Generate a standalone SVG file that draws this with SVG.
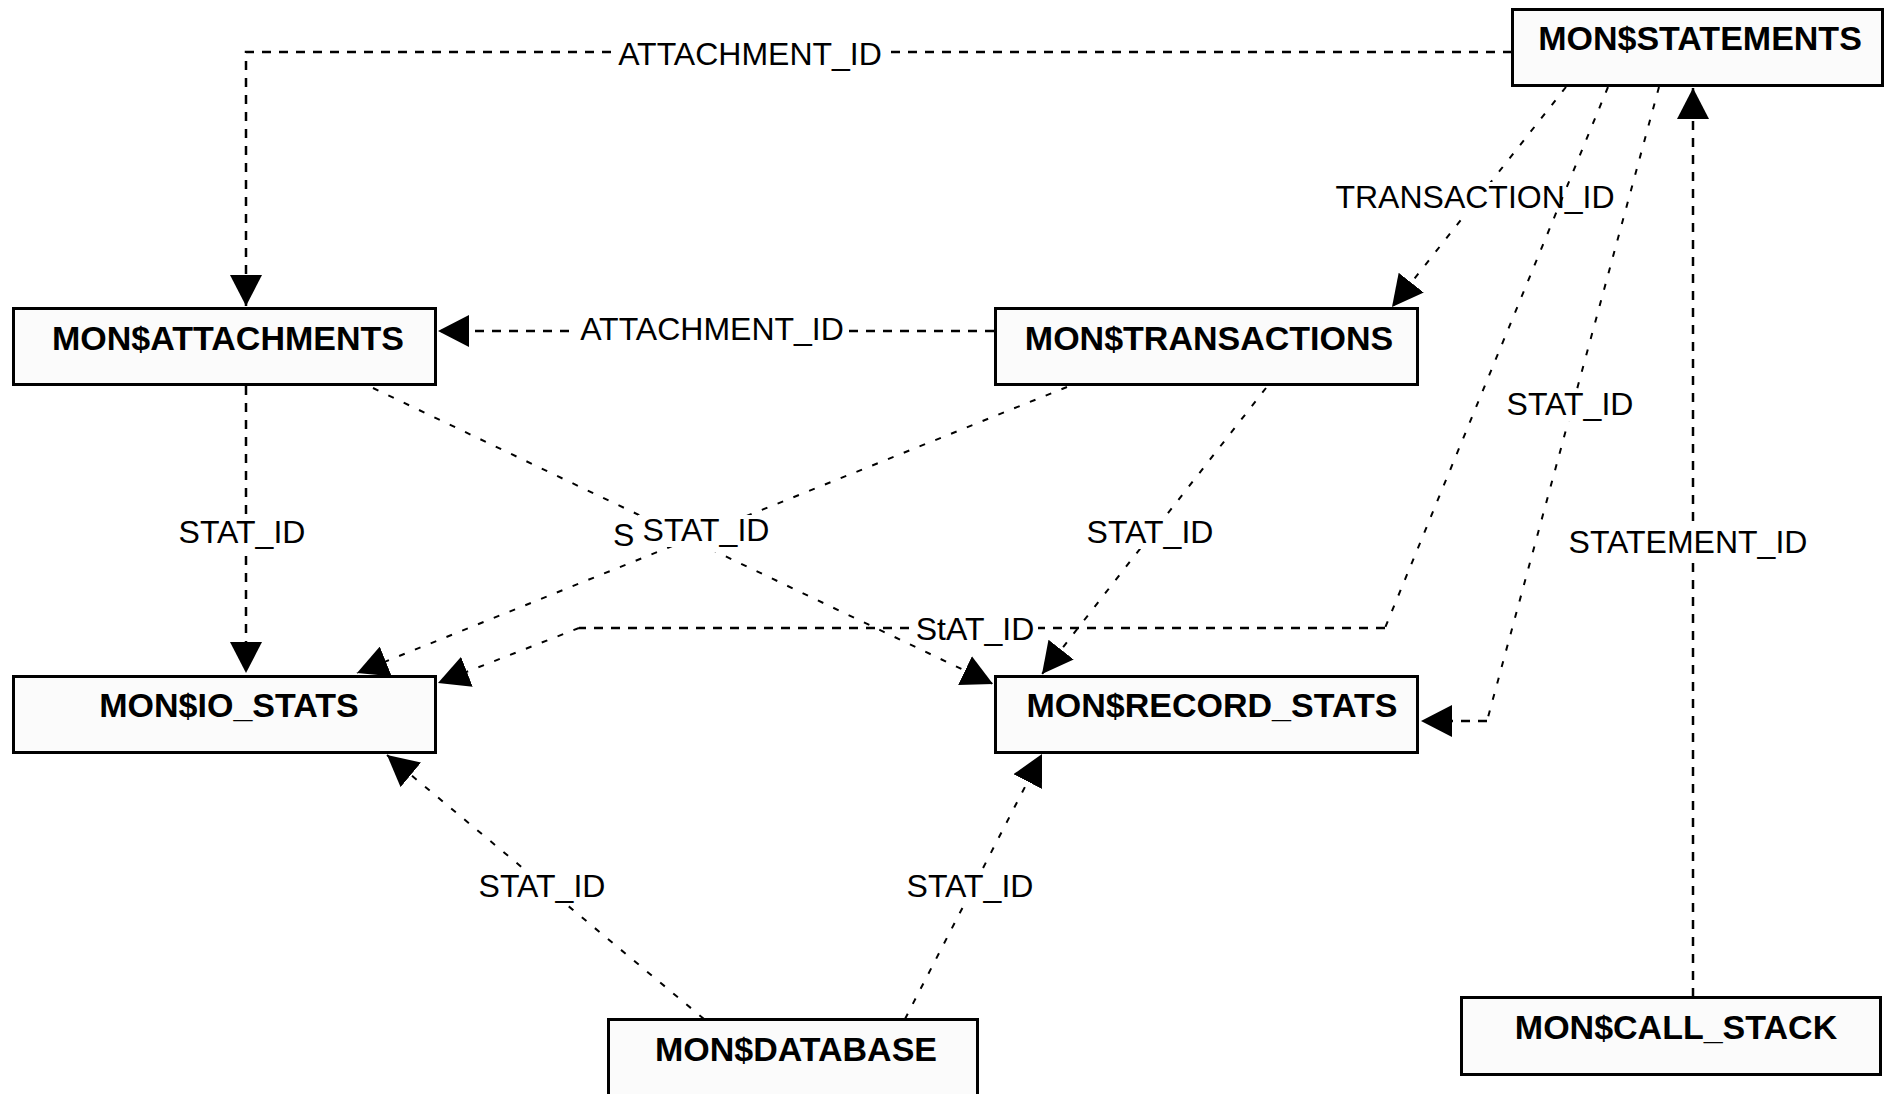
<svg xmlns="http://www.w3.org/2000/svg" width="1888" height="1094" viewBox="0 0 1888 1094">
<defs>
<style>
.c{fill:none;stroke:#000;stroke-width:2.5;stroke-dasharray:9 8}
.d{fill:none;stroke:#000;stroke-width:2;stroke-dasharray:6 11}
.bg{fill:#fff}
.l{font-family:"Liberation Sans",Arial,sans-serif;font-size:32px;fill:#000;text-anchor:middle}
.ls{font-family:"Liberation Sans",Arial,sans-serif;font-size:32px;fill:#000;text-anchor:start}
.n rect{fill:#fbfbfb;stroke:#000;stroke-width:3}
.n text{font-family:"Liberation Sans",Arial,sans-serif;font-weight:bold;font-size:34px;fill:#000;text-anchor:middle}
</style>
<marker id="ah" viewBox="0 0 31 32" refX="31" refY="16" markerWidth="31" markerHeight="32" markerUnits="userSpaceOnUse" orient="auto">
<path d="M0,0 L31,16 L0,32 z" fill="#000"/>
</marker>
</defs>
<rect width="1888" height="1094" fill="#fff"/>
<g id="connectors">
<g id="c1">
<path class="c" d="M1512,52 H246 V306" marker-end="url(#ah)"/>
<rect class="bg" x="614" y="39" width="272" height="32"/>
<text class="l" x="750" y="65">ATTACHMENT_ID</text>
</g>
<g id="c2">
<path class="c" d="M994,331 H438" marker-end="url(#ah)"/>
<rect class="bg" x="576" y="314" width="272" height="32"/>
<text class="l" x="712" y="340">ATTACHMENT_ID</text>
</g>
<g id="c3">
<path class="d" d="M1566,87 L1392,307" marker-end="url(#ah)"/>
<rect class="bg" x="1334" y="182" width="283" height="32"/>
<text class="l" x="1475" y="208">TRANSACTION_ID</text>
</g>
<g id="c4">
<path class="d" d="M1608,87 L1385,628"/>
<path class="c" d="M1385,628 H579"/>
<path class="d" d="M579,628 L438,683" marker-end="url(#ah)"/>
<rect class="bg" x="912" y="614" width="126" height="32"/>
<text class="l" x="975" y="640">StAT_ID</text>
</g>
<g id="c5">
<path class="c" d="M1693,997 V88" marker-end="url(#ah)"/>
<rect class="bg" x="1565" y="527" width="247" height="32"/>
<text class="l" x="1688" y="553">STATEMENT_ID</text>
</g>
<g id="c6">
<path class="c" d="M246,386 V673" marker-end="url(#ah)"/>
<rect class="bg" x="174" y="517" width="136" height="32"/>
<text class="l" x="242" y="543">STAT_ID</text>
</g>
<g id="c7">
<path class="d" d="M373,388 L993,684" marker-end="url(#ah)"/>
<rect class="bg" x="611" y="520" width="136" height="32"/>
<text class="ls" x="613" y="546">S</text>
</g>
<g id="c8">
<path class="d" d="M1067,387 L357,673" marker-end="url(#ah)"/>
<rect class="bg" x="638" y="515" width="136" height="32"/>
<text class="l" x="706" y="541">STAT_ID</text>
</g>
<g id="c9">
<path class="d" d="M1266,388 L1042,674" marker-end="url(#ah)"/>
<rect class="bg" x="1082" y="517" width="136" height="32"/>
<text class="l" x="1150" y="543">STAT_ID</text>
</g>
<g id="c10">
<path class="d" d="M1659,87 L1487,721"/>
<path class="c" d="M1487,721 H1421" marker-end="url(#ah)"/>
<rect class="bg" x="1502" y="389" width="136" height="32"/>
<text class="l" x="1570" y="415">STAT_ID</text>
</g>
<g id="c11">
<path class="d" d="M704,1019 L387,755" marker-end="url(#ah)"/>
<rect class="bg" x="474" y="871" width="136" height="32"/>
<text class="l" x="542" y="897">STAT_ID</text>
</g>
<g id="c12">
<path class="d" d="M905,1019 L1042,754" marker-end="url(#ah)"/>
<rect class="bg" x="902" y="871" width="136" height="32"/>
<text class="l" x="970" y="897">STAT_ID</text>
</g>
</g>
<g id="n-statements" class="n">
<rect x="1512.5" y="9.5" width="370" height="76"/>
<text x="1700" y="50">MON$STATEMENTS</text>
</g>
<g id="n-attachments" class="n">
<rect x="13.5" y="308.5" width="422" height="76"/>
<text x="228" y="350">MON$ATTACHMENTS</text>
</g>
<g id="n-transactions" class="n">
<rect x="995.5" y="308.5" width="422" height="76"/>
<text x="1209" y="350">MON$TRANSACTIONS</text>
</g>
<g id="n-io-stats" class="n">
<rect x="13.5" y="676.5" width="422" height="76"/>
<text x="229" y="717">MON$IO_STATS</text>
</g>
<g id="n-record-stats" class="n">
<rect x="995.5" y="676.5" width="422" height="76"/>
<text x="1212" y="717">MON$RECORD_STATS</text>
</g>
<g id="n-database" class="n">
<rect x="608.5" y="1019.5" width="369" height="100"/>
<text x="796" y="1061">MON$DATABASE</text>
</g>
<g id="n-call-stack" class="n">
<rect x="1461.5" y="997.5" width="419" height="77"/>
<text x="1676" y="1039">MON$CALL_STACK</text>
</g>
</svg>
